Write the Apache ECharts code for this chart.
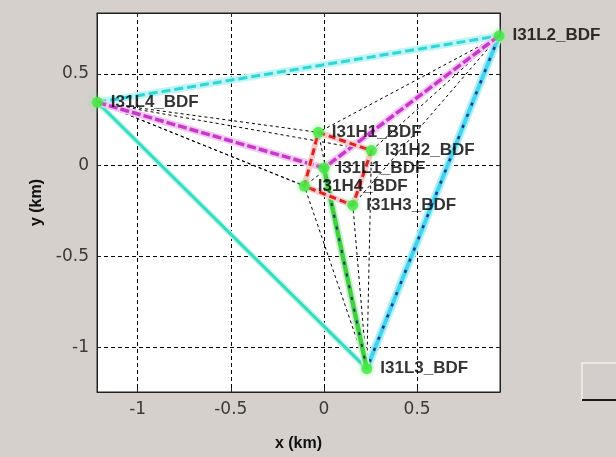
<!DOCTYPE html>
<html><head><meta charset="utf-8">
<script src="https://cdn.jsdelivr.net/npm/echarts@6/dist/echarts.min.js"></script>
<style>html,body{margin:0;padding:0;background:#d5d0cc;} #c{width:616px;height:457px;}</style>
</head><body><div id="c"></div>
<script>
// ---- data ----
const stationNames = ['I31L1_BDF','I31L2_BDF','I31L3_BDF','I31L4_BDF','I31H1_BDF','I31H2_BDF','I31H3_BDF','I31H4_BDF'];
const stationX = [0.0, 0.94, 0.23, -1.216, -0.03, 0.255, 0.155, -0.105];
const stationY = [-0.015, 0.71, -1.117, 0.345, 0.18, 0.08, -0.22, -0.115];
const xTickValues = [-1, -0.5, 0, 0.5];
const yTickValues = [-1, -0.5, 0, 0.5];
const xRange = [-1.218, 0.945];
const yRange = [-1.245, 0.835];
// links between stations (indices into the arrays above)
const thinLinks = [[3,4],[3,5],[3,6],[3,7],[1,4],[1,5],[1,6],[1,7],[2,4],[2,5],[2,6],[2,7]];
const linkL4L2 = [3,1];
const linkL4L3 = [3,2];
const linkL2L3 = [1,2];
const linksToL1 = [[3,0],[1,0]];
const linkL1L3 = [0,2];
const squareLoop = [4,5,6,7,4];

// ---- build ----
function pt(i){ return [stationX[i], stationY[i]]; }
function seg(a,b){ return [pt(a), pt(b)]; }
const series = [];
function addLine(data, color, width, type, z){
  series.push({type:'line', data:data, symbol:'none', silent:true, animation:false, z:z||2,
    clip:false, lineStyle:{color:color, width:width, type:type||'solid'}});
}
thinLinks.forEach(l => addLine(seg(l[0],l[1]), '#000', 1, [3,3], 2));
// L4-L2 cyan dashed
addLine(seg(linkL4L2[0],linkL4L2[1]), '#bff5f5', 7, 'solid', 3);
addLine(seg(linkL4L2[0],linkL4L2[1]), '#2ed6d6', 3, [9,4], 3);
// L4-L3 solid turquoise
addLine(seg(linkL4L3[0],linkL4L3[1]), '#c4f6ec', 6, 'solid', 3);
addLine(seg(linkL4L3[0],linkL4L3[1]), '#35dcc0', 3, 'solid', 3);
// L2-L3 cyan with navy dots
addLine(seg(linkL2L3[0],linkL2L3[1]), '#aaf0f7', 8, 'solid', 3);
addLine(seg(linkL2L3[0],linkL2L3[1]), '#42d4ee', 4, 'solid', 3);
addLine(seg(linkL2L3[0],linkL2L3[1]), '#1a2f8a', 2.5, [3,9], 3);
// magenta to L1
linksToL1.forEach(l => {
  addLine(seg(l[0],l[1]), '#f5c8f5', 7, 'solid', 3);
  addLine(seg(l[0],l[1]), '#c838c8', 3.5, [9,3], 3);
});
// L1-L3 green with navy dots
addLine(seg(linkL1L3[0],linkL1L3[1]), '#c8f5c8', 8, 'solid', 3);
addLine(seg(linkL1L3[0],linkL1L3[1]), '#40d040', 4.5, 'solid', 3);
addLine(seg(linkL1L3[0],linkL1L3[1]), '#1a2f6a', 2, [3,9], 3);
// red square
const sq = squareLoop.map(pt);
addLine(sq, '#f8cccc', 6, 'solid', 4);
addLine(sq, '#dd2020', 3, [7,4], 4);
// stations
series.push({
  type:'scatter', z:6, animation:false, silent:true, symbolSize:11,
  itemStyle:{color:'#3de83d', shadowBlur:6, shadowColor:'#7ff07f'},
  label:{show:true, position:'right', distance:8, formatter:p=>p.name,
    fontFamily:'Liberation Sans', fontWeight:'bold', fontSize:17, color:'#000'},
  data: stationNames.map((n,i)=>({name:n, value:pt(i)}))
});

const labelFont = {fontFamily:'DejaVu Sans', fontSize:17, color:'#3a3a3a'};
const chart = echarts.init(document.getElementById('c'), null, {renderer:'canvas'});
chart.setOption({
  backgroundColor:'#d5d0cc',
  animation:false,
  grid:{left:97, top:13, width:403, height:387, show:true, backgroundColor:'#ffffff', borderColor:'#222', borderWidth:1},
  xAxis:[{
    type:'value', min:xRange[0], max:xRange[1], position:'bottom',
    name:'x (km)', nameLocation:'middle', nameGap:44,
    nameTextStyle:{fontFamily:'Liberation Sans', fontWeight:'bold', fontSize:16, color:'#111'},
    axisLine:{show:true, onZero:false, lineStyle:{color:'#222', width:1}},
    axisTick:{show:true, inside:true, length:4, customValues:xTickValues, lineStyle:{color:'#222'}},
    axisLabel:Object.assign({customValues:xTickValues, margin:9}, labelFont),
    splitLine:{show:true, lineStyle:{color:'#000', width:1, type:[4,3]}}
  },{
    type:'value', min:xRange[0], max:xRange[1], position:'top',
    axisLine:{show:true, onZero:false, lineStyle:{color:'#222'}},
    axisTick:{show:true, inside:true, length:4, customValues:xTickValues, lineStyle:{color:'#222'}},
    axisLabel:{show:false}, splitLine:{show:false}
  }],
  yAxis:[{
    type:'value', min:yRange[0], max:yRange[1], position:'left',
    name:'y (km)', nameLocation:'middle', nameGap:52,
    nameTextStyle:{fontFamily:'Liberation Sans', fontWeight:'bold', fontSize:16, color:'#111'},
    axisLine:{show:true, onZero:false, lineStyle:{color:'#222', width:1}},
    axisTick:{show:true, inside:true, length:4, customValues:yTickValues, lineStyle:{color:'#222'}},
    axisLabel:Object.assign({customValues:yTickValues, margin:8}, labelFont),
    splitLine:{show:true, lineStyle:{color:'#000', width:1, type:[4,3]}}
  },{
    type:'value', min:yRange[0], max:yRange[1], position:'right',
    axisLine:{show:true, onZero:false, lineStyle:{color:'#222'}},
    axisTick:{show:true, inside:true, length:4, customValues:yTickValues, lineStyle:{color:'#222'}},
    axisLabel:{show:false}, splitLine:{show:false}
  }],
  graphic:[
    {type:'rect', shape:{x:582, y:363, width:40, height:37}, style:{fill:'#d3cecb', stroke:'#f3f1ef', lineWidth:1.5}, silent:true},
    {type:'line', shape:{x1:582, y1:400, x2:616, y2:400}, style:{stroke:'#1a1a1a', lineWidth:2}, silent:true}
  ],
  series: series
});
</script>
</body></html>
